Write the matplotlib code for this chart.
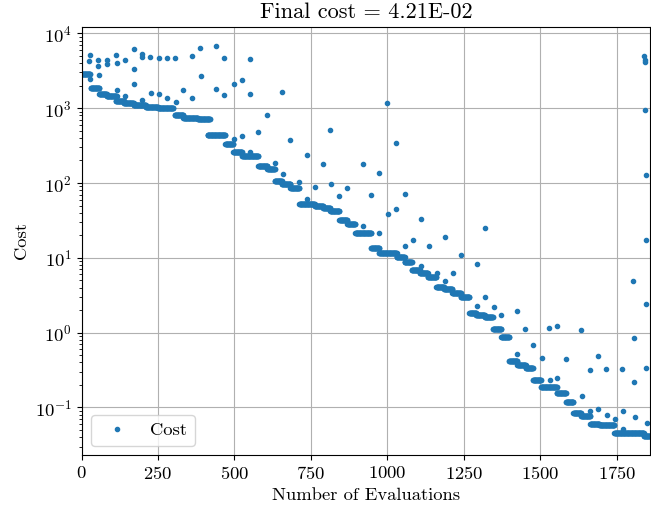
import numpy as np
import matplotlib
matplotlib.use("Agg")
import matplotlib.pyplot as plt

plt.rcParams["font.family"] = "serif"
plt.rcParams["font.serif"] = ["cmr10"]
plt.rcParams["mathtext.fontset"] = "cm"
plt.rcParams["axes.formatter.use_mathtext"] = True
plt.rcParams["font.size"] = 13.4

# plateaus of the best cost: first evaluation, last evaluation, cost
step_start = [0, 30, 58, 82, 112, 138, 170, 210, 250, 305, 333, 380, 412, 470, 496,
              525, 578, 608, 632, 655, 683, 712, 762, 790, 813, 843, 869, 895, 947,
              973, 1030, 1056, 1080, 1106, 1132, 1160, 1185, 1212, 1240, 1268, 1290,
              1318, 1345, 1372, 1398, 1425, 1452, 1476, 1502, 1554, 1584, 1608, 1633,
              1663, 1693, 1742, 1838]
step_end = [28, 58, 82, 115, 140, 170, 210, 250, 300, 333, 380, 420, 470, 496, 525,
            578, 608, 632, 655, 683, 712, 762, 790, 813, 843, 869, 895, 947, 973,
            1030, 1056, 1080, 1106, 1132, 1160, 1185, 1212, 1240, 1268, 1290, 1318,
            1345, 1372, 1398, 1425, 1452, 1476, 1502, 1554, 1584, 1608, 1633, 1663,
            1693, 1742, 1838, 1858]
step_cost = [2840, 1850, 1560, 1470, 1250, 1160, 1110, 1050, 1000, 815, 740, 715,
             440, 334, 256, 233, 170, 155, 105, 97, 86, 52.5, 48.7, 46.6, 42.8, 32.4,
             28.7, 21.5, 13.6, 11.7, 10.3, 8.73, 6.77, 6.31, 5.58, 4.1, 3.78, 3.41,
             3.02, 1.85, 1.72, 1.63, 1.13, 0.874, 0.418, 0.374, 0.334, 0.233, 0.19,
             0.155, 0.119, 0.0832, 0.0773, 0.0598, 0.058, 0.0454, 0.0421]

# evaluations that landed above the current best
other_eval = [28, 26, 28, 55, 55, 57, 84, 84, 113, 115, 116, 142, 143, 170, 170, 170,
              197, 197, 199, 225, 226, 252, 253, 280, 281, 307, 308, 333, 360, 361,
              388, 390, 440, 440, 467, 467, 497, 497, 524, 524, 551, 551, 551, 578,
              606, 632, 657, 658, 683, 711, 737, 738, 764, 790, 812, 815, 843, 869,
              920, 921, 947, 973, 974, 1000, 1001, 1027, 1028, 1056, 1057, 1083, 1109,
              1109, 1135, 1161, 1188, 1189, 1214, 1240, 1292, 1292, 1320, 1320, 1347,
              1372, 1424, 1425, 1451, 1477, 1504, 1529, 1530, 1556, 1556, 1583, 1634,
              1636, 1662, 1663, 1689, 1690, 1716, 1717, 1744, 1768, 1771, 1771, 1803,
              1806, 1806, 1808, 1840, 1841, 1842, 1843, 1844, 1845, 1845, 1846, 1847]
other_cost = [5140, 4280, 2460, 4450, 3660, 2780, 4450, 3860, 5190, 4060, 1740, 4450,
              1470, 6120, 3340, 2090, 5250, 4830, 1290, 4830, 1610, 4640, 1540, 4640,
              1380, 4680, 1200, 1770, 5030, 1370, 6430, 2720, 6740, 1790, 4640, 1500,
              2110, 390, 2360, 428, 4500, 1540, 259, 479, 815, 185, 1630, 130, 370,
              103, 240, 61.2, 89.3, 182, 514, 97, 66.3, 86.5, 177, 27, 68.4, 136,
              21.7, 1166, 39, 341, 45, 70.5, 14.6, 17.2, 33.4, 7.73, 14.3, 6.24, 18.7,
              4.88, 6.31, 10.8, 8.14, 2.27, 24.8, 2.99, 2.19, 1.74, 1.94, 0.514, 1.11,
              0.678, 0.464, 1.15, 0.231, 1.22, 0.251, 0.45, 1.08, 0.143, 0.321,
              0.0885, 0.493, 0.0958, 0.323, 0.0796, 0.0698, 0.323, 0.0902, 0.0508,
              4.88, 0.848, 0.219, 0.0736, 4980, 4410, 4100, 940, 128, 17.5, 2.38,
              0.335, 0.0618]

evals = list(other_eval)
cost = list(other_cost)
for a, b, c in zip(step_start, step_end, step_cost):
    n = np.arange(a, b + 1)
    evals += n.tolist()
    cost += [c] * len(n)
evals = np.array(evals)
cost = np.array(cost)
order = np.argsort(evals, kind="stable")
evals, cost = evals[order], cost[order]

fig = plt.figure(figsize=(6.51, 5.08), dpi=100)
ax = fig.add_axes([0.1252, 0.1043, 0.874, 0.8431])
ax.plot(evals, cost, ".", color="#1f77b4", label="Cost")
ax.set_yscale("log")
ax.set_xlim(0, 1860)
ax.grid(True)
ax.set_xlabel("Number of Evaluations")
ax.set_ylabel("Cost")
ax.set_title("Final cost = %.2E" % cost[-1])
ax.legend(loc="lower left")
fig.savefig("out.png")
